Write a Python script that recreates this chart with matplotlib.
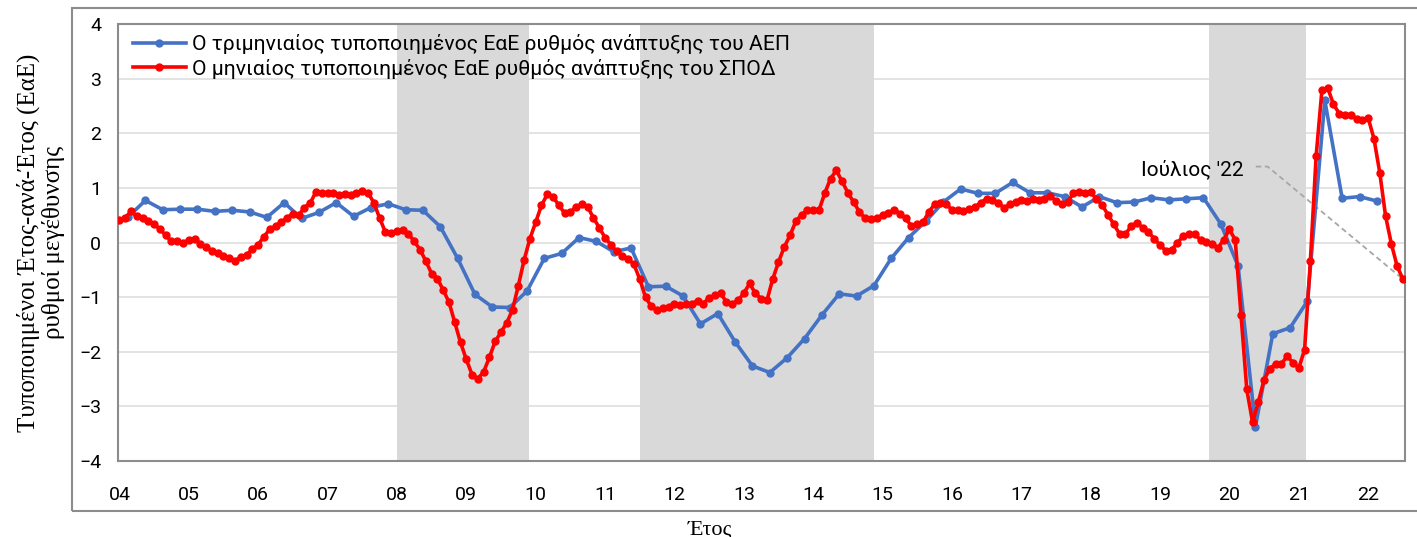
import matplotlib
matplotlib.use("Agg")
import matplotlib.pyplot as plt
from matplotlib.patches import Rectangle

# ---------------- data ----------------
start_year = 2004
# monthly standardised YoY growth of the indicator (Jan 2004 - Jul 2022)
red_vals = [
    0.42, 0.45, 0.57, 0.48, 0.45, 0.39, 0.33, 0.25, 0.13, 0.02, 0.02, -0.01,      # 2004
    0.05, 0.06, -0.02, -0.09, -0.15, -0.20, -0.25, -0.29, -0.34, -0.26, -0.23, -0.12,  # 2005
    -0.04, 0.11, 0.24, 0.30, 0.37, 0.45, 0.53, 0.50, 0.64, 0.72, 0.93, 0.91,      # 2006
    0.91, 0.90, 0.87, 0.89, 0.87, 0.90, 0.94, 0.91, 0.73, 0.45, 0.19, 0.18,       # 2007
    0.21, 0.22, 0.16, 0.02, -0.13, -0.34, -0.57, -0.66, -0.87, -1.09, -1.46, -1.83,  # 2008
    -2.14, -2.42, -2.49, -2.37, -2.10, -1.81, -1.64, -1.47, -1.23, -0.79, -0.32, 0.07,  # 2009
    0.37, 0.68, 0.88, 0.84, 0.68, 0.54, 0.56, 0.65, 0.70, 0.65, 0.45, 0.27,       # 2010
    0.09, -0.04, -0.16, -0.24, -0.30, -0.40, -0.67, -1.00, -1.17, -1.23, -1.20, -1.18,  # 2011
    -1.12, -1.14, -1.12, -1.12, -1.07, -1.12, -1.01, -0.97, -0.93, -1.09, -1.12, -1.06,  # 2012
    -0.93, -0.75, -0.93, -1.03, -1.06, -0.67, -0.36, -0.08, 0.13, 0.39, 0.51, 0.59,  # 2013
    0.59, 0.59, 0.90, 1.17, 1.32, 1.12, 0.91, 0.74, 0.56, 0.44, 0.43, 0.45,       # 2014
    0.50, 0.54, 0.60, 0.53, 0.44, 0.30, 0.33, 0.37, 0.56, 0.70, 0.73, 0.70,       # 2015
    0.60, 0.59, 0.57, 0.62, 0.65, 0.73, 0.80, 0.78, 0.73, 0.63, 0.70, 0.74,       # 2016
    0.77, 0.76, 0.79, 0.78, 0.80, 0.86, 0.76, 0.71, 0.74, 0.90, 0.93, 0.91,       # 2017
    0.92, 0.80, 0.68, 0.51, 0.33, 0.16, 0.15, 0.30, 0.36, 0.27, 0.19, 0.07,       # 2018
    -0.05, -0.15, -0.13, -0.01, 0.12, 0.15, 0.15, 0.05, 0.01, -0.02, -0.10, 0.05,  # 2019
    0.24, 0.05, -1.33, -2.69, -3.29, -2.92, -2.51, -2.31, -2.22, -2.22, -2.08, -2.20,  # 2020
    -2.30, -1.96, -0.34, 1.59, 2.79, 2.83, 2.53, 2.36, 2.34, 2.34, 2.26, 2.25,    # 2021
    2.28, 1.90, 1.28, 0.49, -0.02, -0.43, -0.67,                                  # 2022
]
# quarterly standardised YoY GDP growth (Q1 2004 - Q1 2022)
blue_vals = [
    0.47, 0.77, 0.60, 0.61, 0.61, 0.57, 0.59, 0.56, 0.46, 0.73, 0.44, 0.55,
    0.73, 0.48, 0.64, 0.71, 0.60, 0.59, 0.29, -0.29, -0.95, -1.18, -1.19, -0.89,
    -0.29, -0.20, 0.09, 0.02, -0.17, -0.10, -0.81, -0.80, -0.98, -1.49, -1.30, -1.82,
    -2.26, -2.38, -2.11, -1.76, -1.33, -0.94, -0.98, -0.79, -0.29, 0.09, 0.39, 0.74,
    0.98, 0.90, 0.90, 1.10, 0.91, 0.91, 0.84, 0.65, 0.84, 0.73, 0.74, 0.82,
    0.78, 0.80, 0.82, 0.34, -0.43, -3.37, -1.67, -1.56, -1.07, 2.60, 0.81, 0.84,
    0.76,
]
# shaded periods (in years)
shade_start = [2008.0, 2011.5, 2019.7]
shade_end = [2009.91, 2014.88, 2021.1]

year_ticks = list(range(2004, 2023))
year_labels = ["%02d" % (y % 100) for y in year_ticks]
y_ticks = [-4, -3, -2, -1, 0, 1, 2, 3, 4]

label_blue = "Ο τριμηνιαίος τυποποιημένος ΕαΕ ρυθμός ανάπτυξης του ΑΕΠ"
label_red = "Ο μηνιαίος τυποποιημένος ΕαΕ ρυθμός ανάπτυξης του ΣΠΟΔ"
ylabel = "Τυποποιημένοι Έτος-ανά-Έτος (ΕαΕ)\nρυθμοί μεγέθυνσης"
xlabel = "Έτος"
note = "Ιούλιος '22"

# positions: monthly at month start, quarterly at mid-quarter
red_x = [start_year + i / 12.0 for i in range(len(red_vals))]
blue_x = [start_year + (3 * k + 1.5) / 12.0 for k in range(len(blue_vals))]

# ---------------- style ----------------
sans = ["Roboto", "DejaVu Sans"]
serif = ["Liberation Serif", "DejaVu Serif"]
plt.rcParams["font.family"] = sans

BLUE = "#4472C4"
RED = "#FF0000"
SHADE = "#D9D9D9"
GRID = "#E3E3E3"
BORDER = "#8C8C8C"

fig = plt.figure(figsize=(14.17, 5.37), dpi=100)
ax = fig.add_axes([0.0833, 0.1415, 0.9915 - 0.0833, 0.9553 - 0.1415])

for s, e in zip(shade_start, shade_end):
    ax.axvspan(s, e, color=SHADE, lw=0, zorder=1)

ax.plot(blue_x, blue_vals, color=BLUE, lw=2.6, marker="o", ms=5,
        zorder=3, label=label_blue)
ax.plot(red_x, red_vals, color=RED, lw=2.6, marker="o", ms=5,
        zorder=4, label=label_red)

ax.set_xlim(2003.98, 2022.53)
ax.set_ylim(-4, 4)
ax.set_yticks(y_ticks)
ax.set_xticks(year_ticks)
ax.set_xticklabels(year_labels)
ax.grid(axis="y", color=GRID, lw=1.4, zorder=0)
ax.set_axisbelow(True)
ax.tick_params(axis="both", length=0, labelsize=14, colors="black")
ax.tick_params(axis="y", pad=12)
ax.tick_params(axis="x", pad=18)
for sp in ax.spines.values():
    sp.set_color(BORDER)
    sp.set_linewidth(1.5)

ax.set_ylabel(ylabel, fontsize=18, family=serif, labelpad=10, linespacing=1.15)
ax.set_xlabel(xlabel, fontsize=16, family=serif, labelpad=8)
ax.xaxis.set_label_coords(0.46, -0.135)

leg = ax.legend(loc="upper left", bbox_to_anchor=(0.0, 1.01), frameon=False,
                fontsize=15.2, handlelength=2.5, handletextpad=0.3,
                labelspacing=0.2, borderaxespad=0.3)

# annotation for last observation
last_x, last_y = red_x[-1], red_vals[-1]
ax.text(2020.2, 1.34, note, fontsize=15, ha="right", va="center")
ax.plot([2020.38, 2020.55, last_x], [1.39, 1.39, last_y], color="#A6A6A6",
        lw=1.3, ls=(0, (3, 2)), zorder=2)

# outer chart border
fig.patches.append(Rectangle((0.0508, 0.0484), 1.0, 0.9366,
                             transform=fig.transFigure, fill=False,
                             edgecolor=BORDER, lw=1.5))

fig.savefig("out.png", dpi=100)
